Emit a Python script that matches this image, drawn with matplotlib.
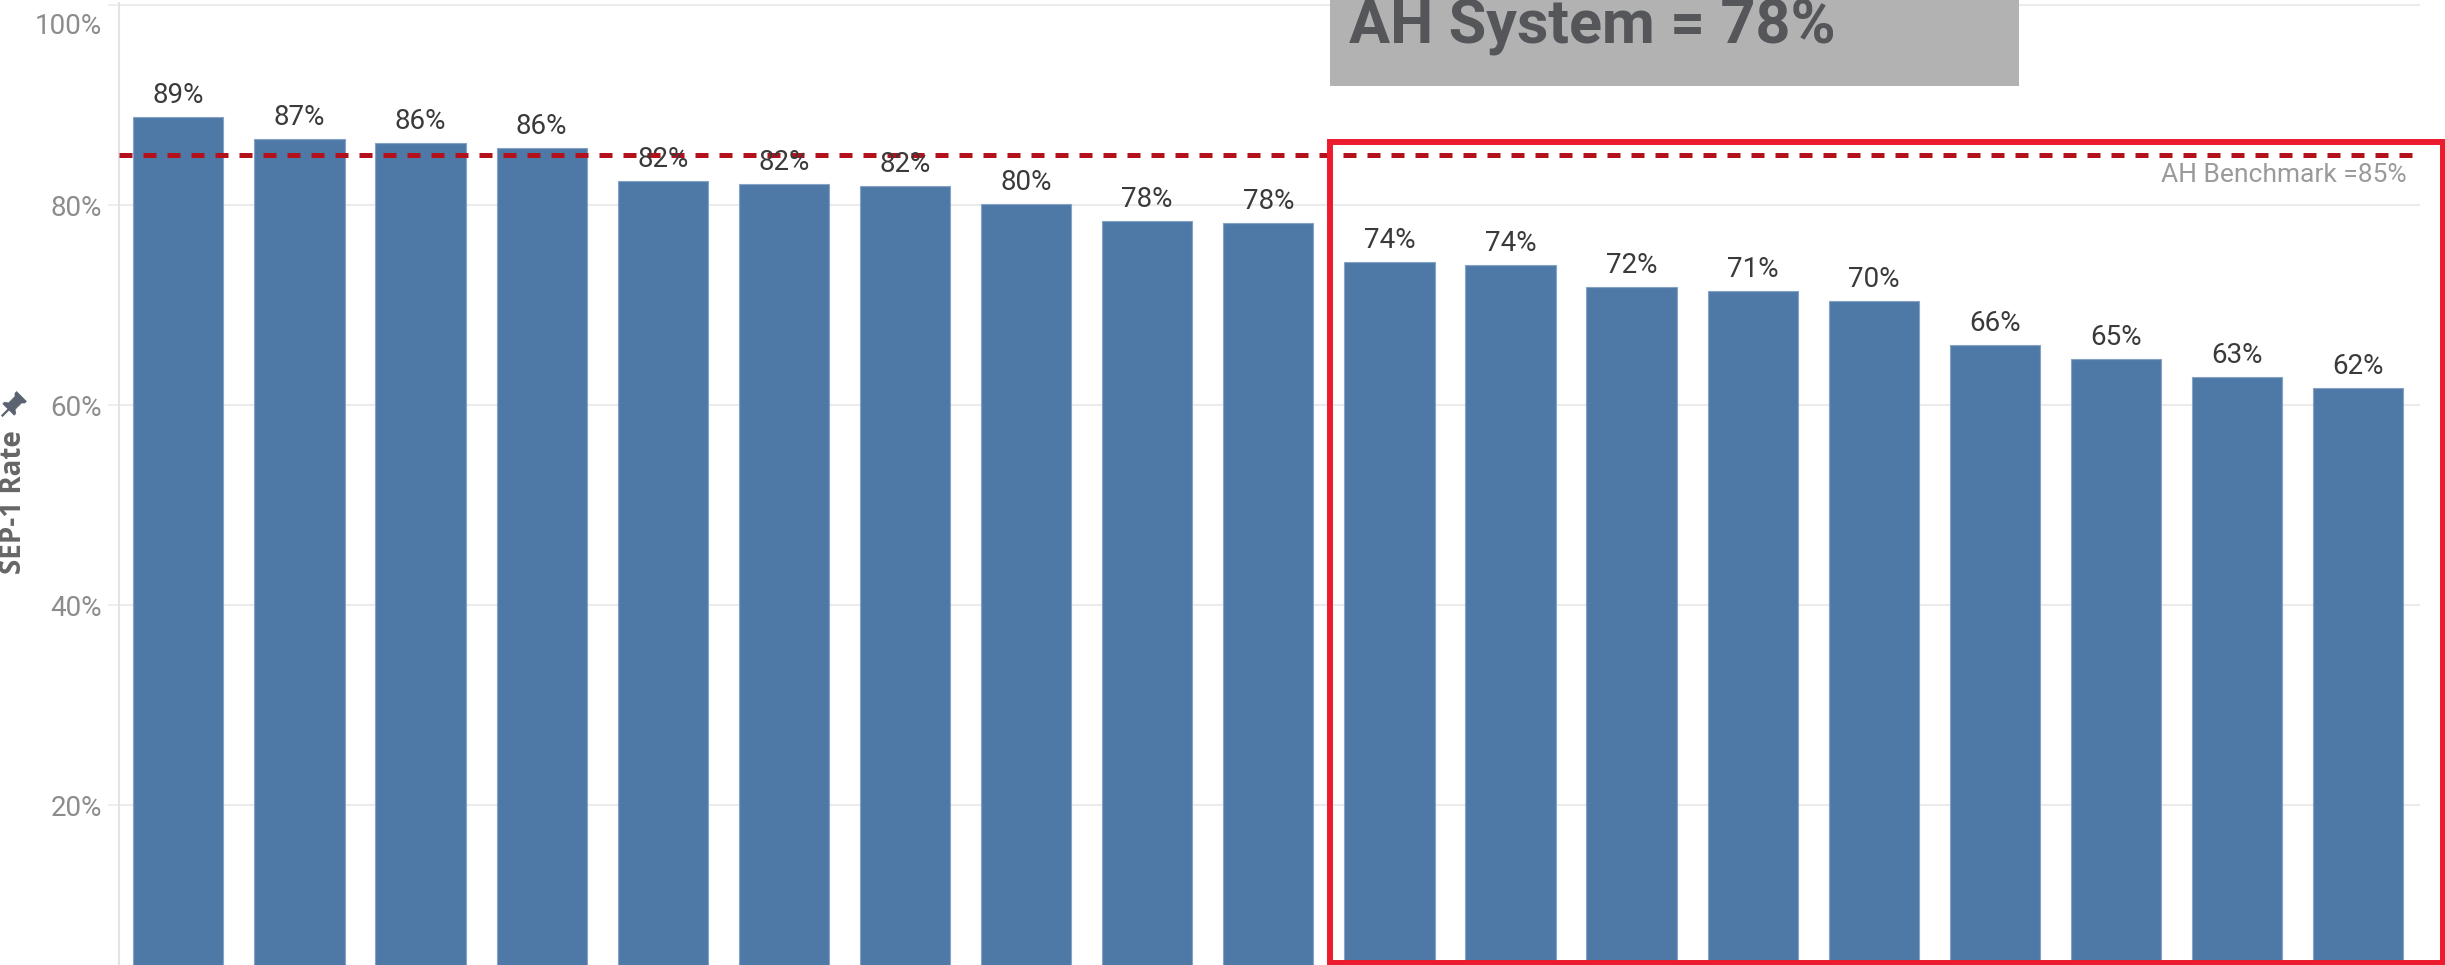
import numpy as np
import matplotlib.pyplot as plt
from matplotlib.patches import Rectangle, Polygon

# SEP-1 compliance rate per hospital, sorted high to low
rates = [88.8, 86.6, 86.2, 85.7, 82.4, 82.1, 81.9, 80.1, 78.4, 78.2,
         74.3, 74.0, 71.8, 71.4, 70.4, 66.0, 64.6, 62.8, 61.7]
y_ticks = [20, 40, 60, 80, 100]
benchmark = 85
system_rate = 78
flag_from = 10  # first hospital below the system rate

W, H = 2445, 965
fig = plt.figure(figsize=(W / 100, H / 100), dpi=100)
# axes reach below the bottom edge of the figure so only the upper part shows
left_px, right_px, zero_px, top_px = 119, 2420, 1005, 3
ax = fig.add_axes([left_px / W, (H - zero_px) / H,
                   (right_px - left_px) / W, (zero_px - top_px) / H])


def px(x, y):
    return x / W, 1 - y / H


font = 'Roboto'
tick_color = '#8c8c8c'
x = list(range(len(rates)))
ax.bar(x, rates, width=0.745, color='#4e79a7', edgecolor='#86a2c5',
       linewidth=0.8, zorder=2)
for i, v in zip(x, rates):
    ax.text(i, v + 1.4, f'{v:.0f}%', ha='center', va='baseline',
            fontsize=20, color='#3a3a3a', family=font, zorder=4)

ax.set_xlim(-0.49, len(rates) - 0.49)
ax.set_ylim(0, 100.2)
ax.set_xticks([])
ax.set_yticks(y_ticks)
# top label sits below its gridline, drawn separately
ax.set_yticklabels([f'{t}%' for t in y_ticks[:-1]] + [''], fontsize=20,
                   color=tick_color, family=font)
ax.text(-0.49 - 17 / 121.1, y_ticks[-1] - 2.2, f'{y_ticks[-1]}%', ha='right',
        va='center', fontsize=20, color=tick_color, family=font, clip_on=False)
ax.tick_params(axis='y', length=8, width=1.2, color='#ebebeb', pad=4)
ax.grid(axis='y', color='#ebebeb', linewidth=1.5, zorder=0)
for s in ['top', 'right', 'bottom']:
    ax.spines[s].set_visible(False)
ax.spines['left'].set_color('#e3e3e3')
ax.spines['left'].set_linewidth(1.5)

fig.text(*px(14, 502), 'SEP-1 Rate', rotation=90, ha='center', va='center',
         fontsize=20, fontweight='bold', color='#666666', family='Open Sans')

# pushpin next to the axis title
pin = np.array([(0, 0), (0.7, 0), (0.7, 8), (7, 8), (7, 10), (4, 12), (4, 20),
                (6, 22), (6, 24), (-6, 24), (-6, 22), (-4, 20), (-4, 12),
                (-7, 10), (-7, 8), (-0.7, 8), (-0.7, 0)]) * 1.15
a = np.deg2rad(-45)
rot = np.array([[np.cos(a), -np.sin(a)], [np.sin(a), np.cos(a)]])
pin = pin @ rot.T
pin_px = [px(2 + dx, 416 - dy) for dx, dy in pin]
fig.add_artist(Polygon(pin_px, closed=True, facecolor='#5b6370',
                       edgecolor='#5b6370', linewidth=0.5,
                       transform=fig.transFigure))

# benchmark reference line
ax.plot([-0.49, 18.48], [benchmark, benchmark], color='#b3121c', lw=3.6,
        linestyle=(0, (2.6, 2.2)), zorder=3, clip_on=False)
ax.text(18.40, benchmark - 2.0, f'AH Benchmark ={benchmark}%', ha='right',
        va='center', fontsize=19, color='#9a9a9a', family=font)

# frame around the hospitals under the system rate
ax.add_patch(Rectangle((flag_from - 0.49, 4.2), 9.19, 82.1, fill=False,
                       edgecolor='#ec1c2e', linewidth=4.3, zorder=5,
                       clip_on=False))

# system rate banner
ax.add_patch(Rectangle((flag_from - 0.49, 91.9), 5.69, 12, facecolor='#b2b2b2',
                       edgecolor='none', zorder=5, clip_on=False))
ax.text(flag_from - 0.33, 96.2, f'AH System = {system_rate}%', ha='left',
        va='baseline', fontsize=44, fontweight='bold', color='#55565a',
        family=font, zorder=6, clip_on=False)

fig.savefig('out.png', dpi=100)
